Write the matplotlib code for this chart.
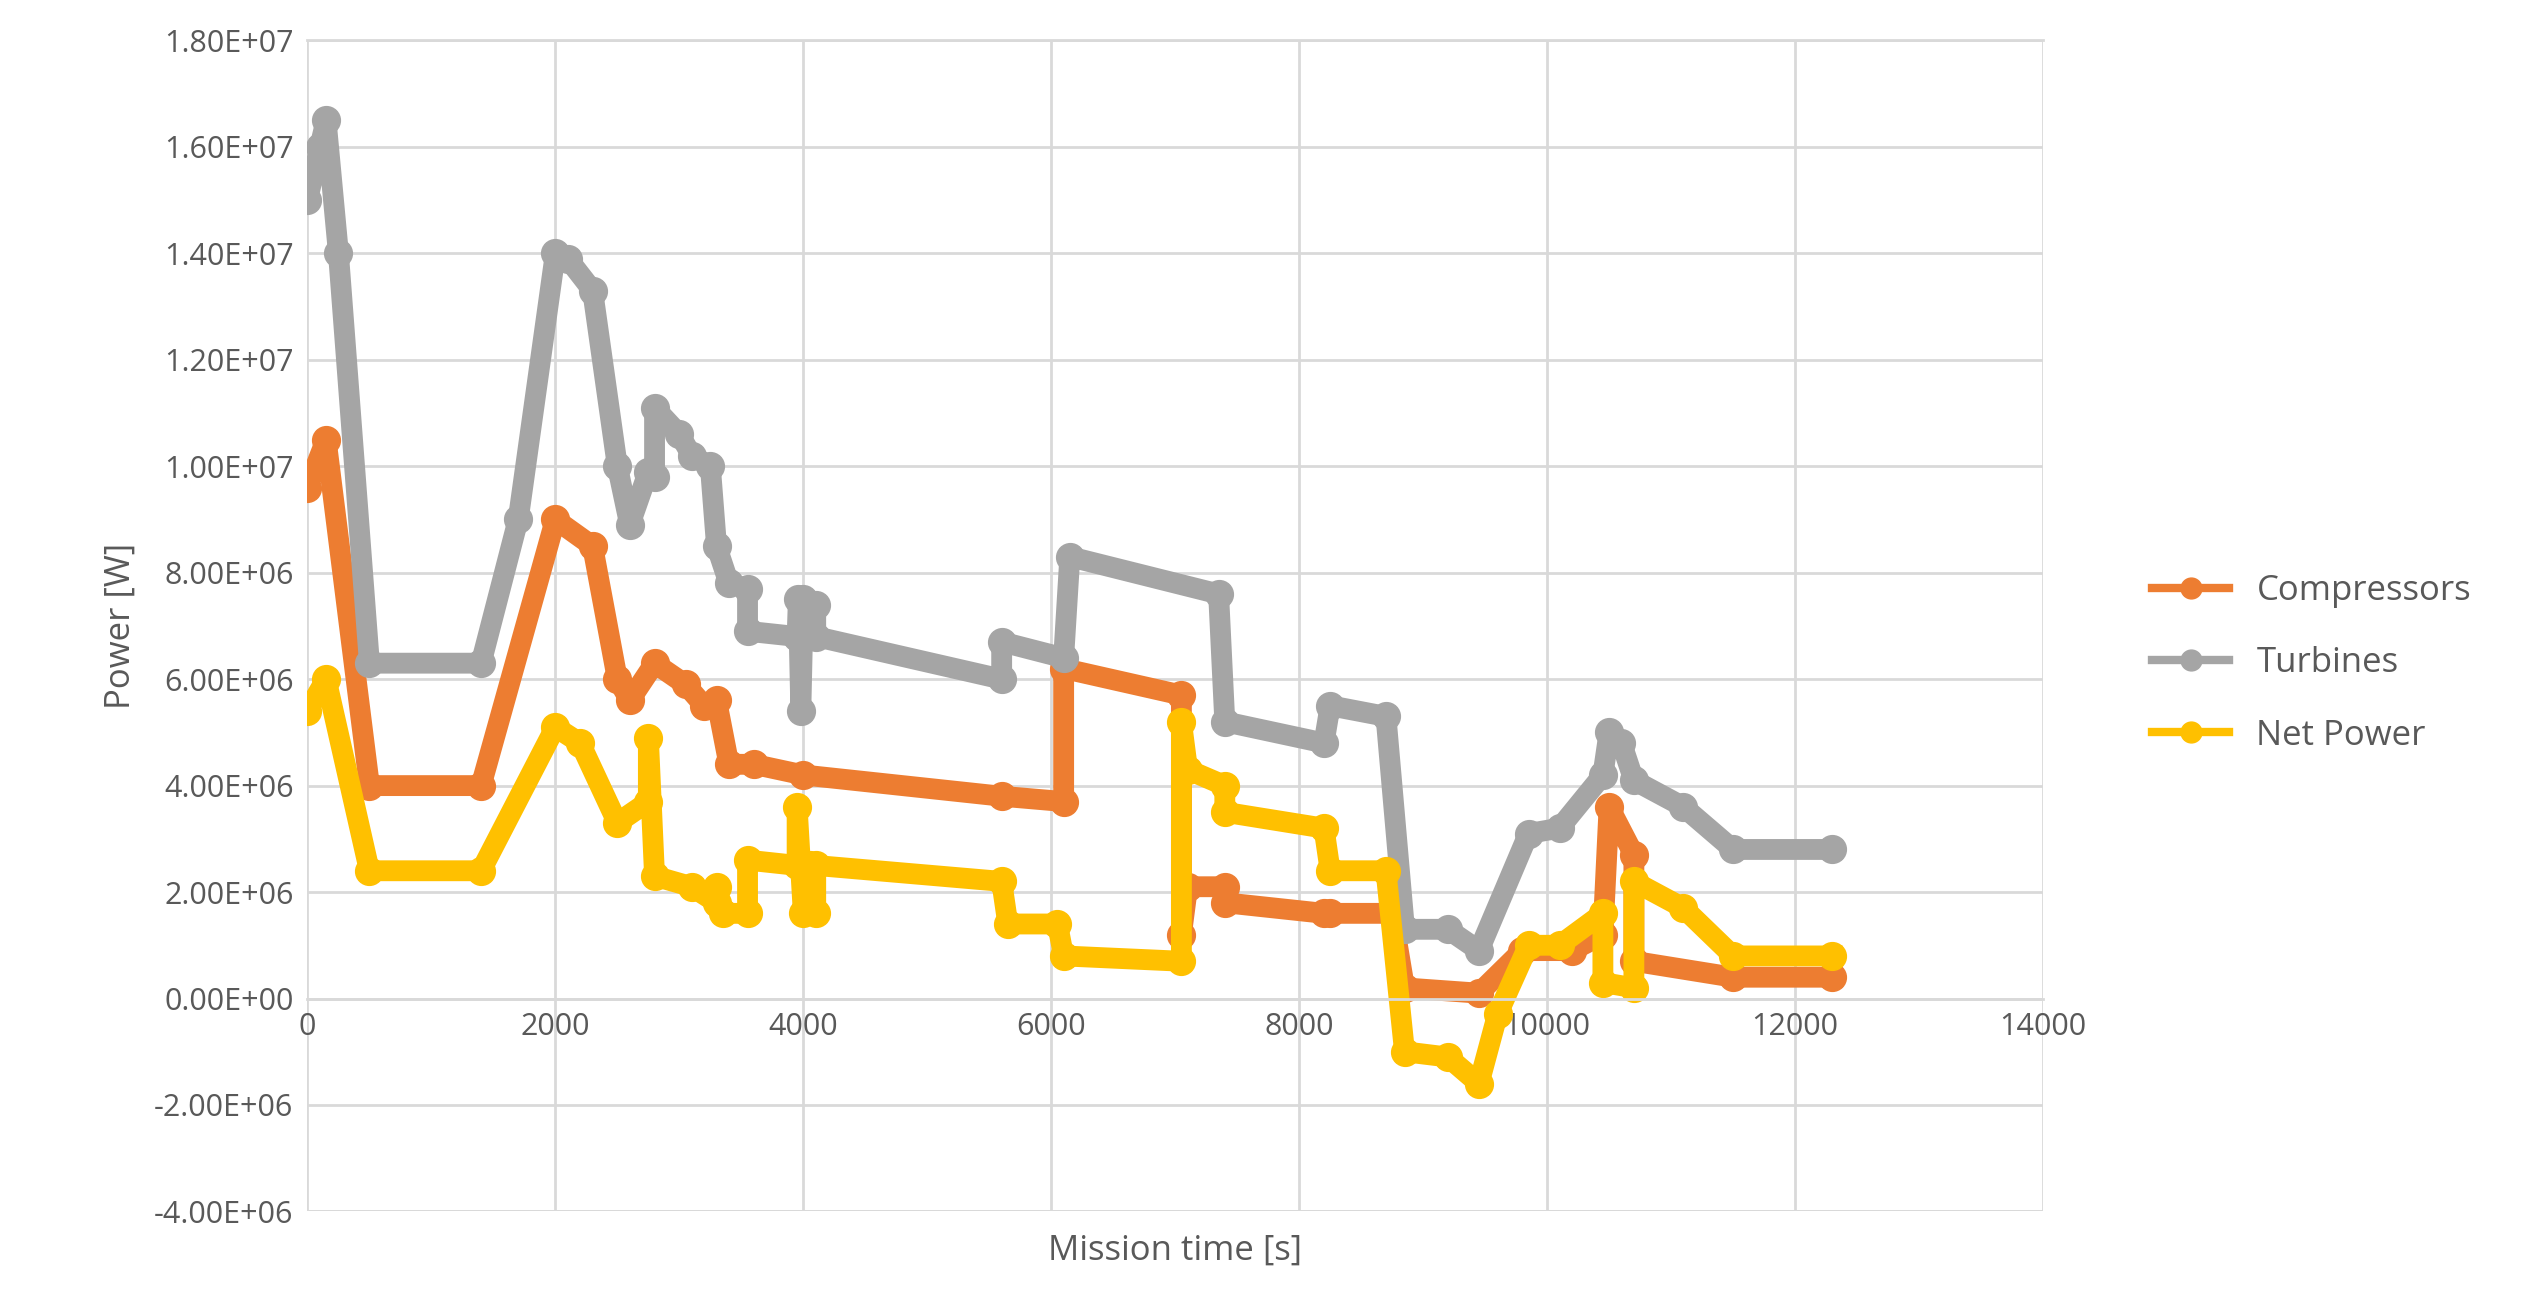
import matplotlib
matplotlib.use("Agg")
import matplotlib.pyplot as plt
from matplotlib.ticker import FuncFormatter

turb_x = [0,100,150,250,500,1400,1700,2000,2100,2300,2500,2600,2750,2800,2800,3000,3100,3250,3300,3400,3550,3550,3950,3960,3980,4000,4100,4100,5600,5600,6100,6150,7350,7400,8200,8250,8700,8850,9200,9450,9850,10100,10450,10500,10600,10700,11100,11500,12300]
turb_y = [1.5e7,1.6e7,1.65e7,1.4e7,6.3e6,6.3e6,9e6,1.4e7,1.39e7,1.33e7,1.0e7,8.9e6,9.9e6,9.8e6,1.11e7,1.06e7,1.02e7,1.0e7,8.5e6,7.8e6,7.7e6,6.9e6,6.8e6,7.5e6,5.4e6,7.5e6,7.4e6,6.8e6,6.0e6,6.7e6,6.4e6,8.3e6,7.6e6,5.2e6,4.8e6,5.5e6,5.3e6,1.3e6,1.3e6,0.9e6,3.1e6,3.2e6,4.2e6,5.0e6,4.8e6,4.1e6,3.6e6,2.8e6,2.8e6]

comp_x = [0,150,500,1400,2000,2300,2500,2600,2800,3050,3200,3300,3400,3600,4000,5600,6100,6100,7050,7050,7100,7400,7400,8200,8250,8750,8850,9450,9800,10200,10450,10500,10700,10700,11500,12300]
comp_y = [9.6e6,1.05e7,4e6,4e6,9e6,8.5e6,6e6,5.6e6,6.3e6,5.9e6,5.5e6,5.6e6,4.4e6,4.4e6,4.2e6,3.8e6,3.7e6,6.2e6,5.7e6,1.2e6,2.1e6,2.1e6,1.8e6,1.6e6,1.6e6,1.6e6,0.2e6,0.1e6,0.9e6,0.9e6,1.2e6,3.6e6,2.7e6,0.7e6,0.4e6,0.4e6]

net_x = [0,150,500,1400,2000,2200,2500,2750,2750,2800,3100,3300,3300,3350,3550,3550,3950,3950,4000,4050,4100,4100,5600,5650,6050,6100,7050,7050,7100,7400,7400,8200,8250,8700,8850,9200,9450,9600,9850,10100,10450,10450,10700,10700,11100,11500,12300]
net_y = [5.4e6,6e6,2.4e6,2.4e6,5.1e6,4.8e6,3.3e6,3.7e6,4.9e6,2.3e6,2.1e6,1.8e6,2.1e6,1.6e6,1.6e6,2.6e6,2.5e6,3.6e6,1.6e6,2.5e6,1.6e6,2.5e6,2.2e6,1.4e6,1.4e6,0.8e6,0.7e6,5.2e6,4.3e6,4.0e6,3.5e6,3.2e6,2.4e6,2.4e6,-1.0e6,-1.1e6,-1.6e6,-0.3e6,1e6,1e6,1.6e6,0.3e6,0.2e6,2.2e6,1.7e6,0.8e6,0.8e6]

series = [("Compressors", comp_x, comp_y, "#ED7D31"),
          ("Turbines", turb_x, turb_y, "#A5A5A5"),
          ("Net Power", net_x, net_y, "#FFC000")]

plt.rcParams['font.family'] = ['Open Sans', 'DejaVu Sans']
fig = plt.figure(figsize=(25.41, 13.04), dpi=100)
ax = fig.add_axes([0.121, 0.071, 0.683, 0.898])
for name, x, y, c in series:
    ax.plot(x, y, color=c, lw=15, marker='o', ms=20, label=name, solid_joinstyle='round')
ax.set_xlim(0, 14000)
ax.set_ylim(-4e6, 1.8e7)
ax.set_xticks(range(0, 14001, 2000))
ax.set_yticks([i*2e6 for i in range(-2, 10)])
ax.yaxis.set_major_formatter(FuncFormatter(lambda v, p: f"{v:.2E}"))
ax.grid(True, color="#D9D9D9", lw=2)
ax.set_axisbelow(True)
for s in ax.spines.values():
    s.set_color("#D9D9D9"); s.set_linewidth(2)
ax.spines['bottom'].set_position(('data', 0))
ax.spines['top'].set_position(('data', 1.8e7))
ax.spines['left'].set_visible(False)
ax.spines['right'].set_visible(False)
ax.axhline(-4e6, color="#D9D9D9", lw=2, zorder=0)
ax.tick_params(length=0, labelsize=22, colors="#595959", pad=10)
fig.text(0.4625, 0.041, "Mission time [s]", fontsize=25, color="#595959", ha='center', va='center')
ax.set_ylabel("Power [W]", fontsize=25, color="#595959", labelpad=12)
leg = ax.legend(loc='center left', bbox_to_anchor=(1.045, 0.468), frameon=False,
                fontsize=25, handlelength=2.2, labelspacing=1.1, markerscale=0.75)
for t in leg.get_texts():
    t.set_color("#595959")
for h in leg.get_lines():
    h.set_linewidth(6)
fig.savefig("out.png", dpi=100)
